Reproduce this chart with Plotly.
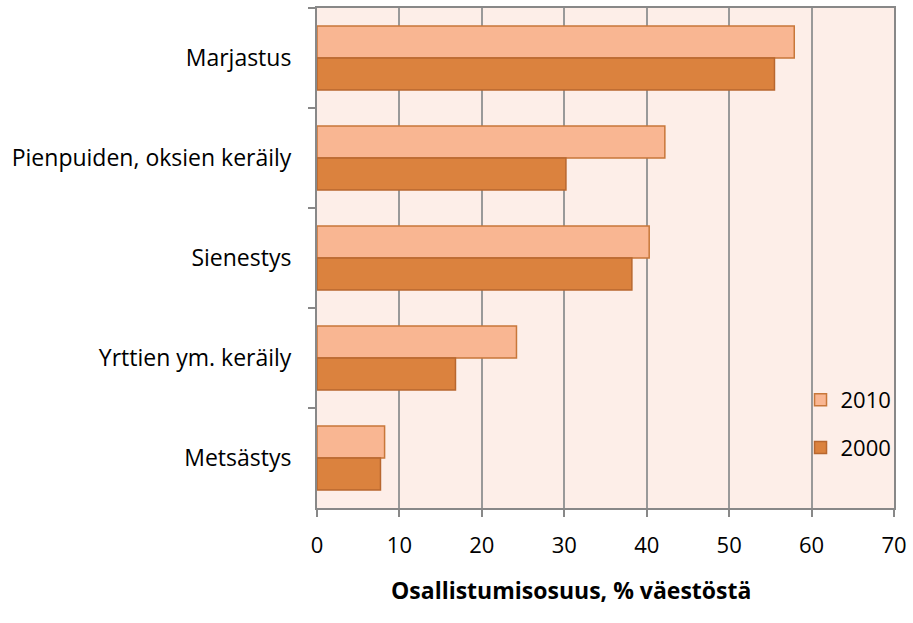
import plotly.graph_objects as go

categories = ["Marjastus", "Pienpuiden, oksien keräily", "Sienestys",
              "Yrttien ym. keräily", "Metsästys"]
values_2010 = [57.9, 42.2, 40.3, 24.2, 8.2]
values_2000 = [55.5, 30.2, 38.2, 16.8, 7.7]
x_ticks = [0, 10, 20, 30, 40, 50, 60, 70]

font_name = "Open Sans"

fig = go.Figure()
fig.add_trace(go.Bar(
    y=categories, x=values_2010, name="2010", orientation="h",
    legendgroup="a",
    marker=dict(color="#F9B692", line=dict(color="#C8773A", width=1.5))))
fig.add_trace(go.Bar(
    y=categories, x=values_2000, name="2000", orientation="h",
    legendgroup="b",
    marker=dict(color="#DB823E", line=dict(color="#B8672F", width=1.5))))

fig.update_layout(
    width=913, height=623,
    margin=dict(l=317, r=15, t=6, b=115),
    paper_bgcolor="white",
    plot_bgcolor="#FDEEE8",
    barmode="group",
    bargap=0.36,
    bargroupgap=0,
    font=dict(family=font_name, size=22, color="black"),
    legend=dict(x=0.838, y=0.258, xanchor="left", yanchor="top",
                bgcolor="rgba(0,0,0,0)", tracegroupgap=16,
                font=dict(size=22)),
)

# x-axis title sits a bit left of centre in the original, so use an annotation
fig.add_annotation(
    text="<b>Osallistumisosuus, % väestöstä</b>",
    xref="paper", yref="paper", x=0.44, y=-0.163,
    xanchor="center", yanchor="middle", showarrow=False,
    font=dict(size=23),
)

fig.update_xaxes(
    range=[0, 70], tickvals=x_ticks,
    showgrid=True, gridcolor="#999999", gridwidth=1.5,
    showline=True, linecolor="#888888", linewidth=2, mirror=True,
    ticks="outside", ticklen=7, tickcolor="#888888", tickwidth=2,
    ticklabelstandoff=10,
    zeroline=False,
)
fig.update_yaxes(
    autorange="reversed",
    showline=True, linecolor="#888888", linewidth=2, mirror=True,
    ticks="outside", ticklen=7, tickcolor="#888888", tickwidth=2,
    tickson="boundaries",
    ticklabelstandoff=19,
    tickfont=dict(size=23),
    showgrid=False,
)

# page body has a default 8px margin; remove it so the figure sits at 0,0
fig.write_html("out.html", config={"displayModeBar": False},
               post_script="document.body.style.margin='0';")
